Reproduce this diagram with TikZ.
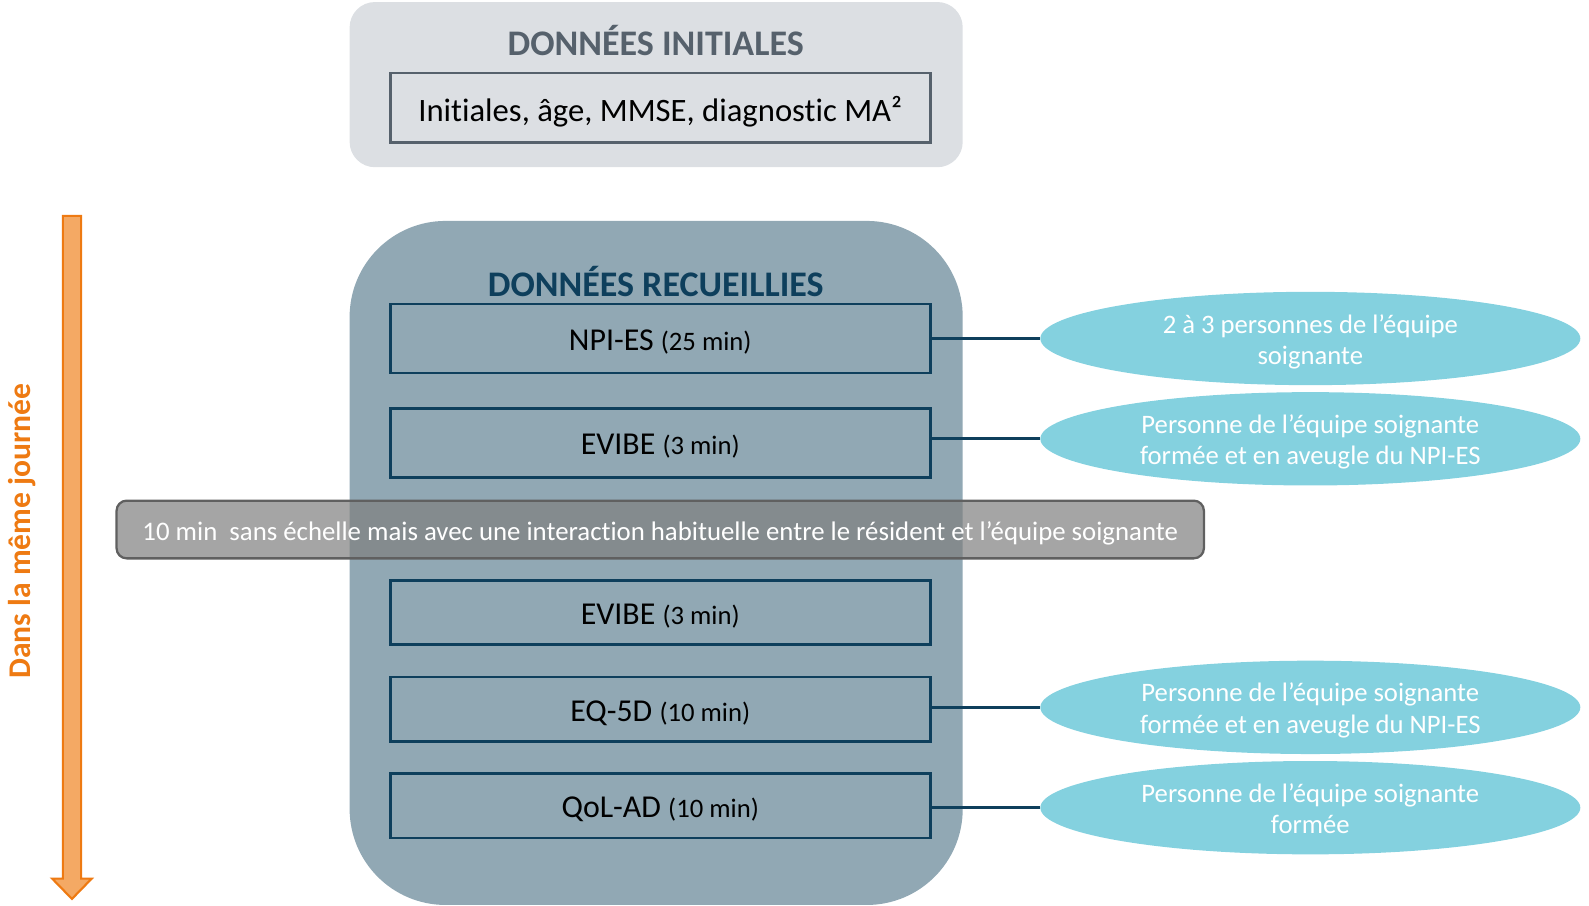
\documentclass[tikz,border=0pt]{standalone}
\usepackage{fontspec}
\setmainfont{Carlito}[Ligatures=CommonOff]
\usetikzlibrary{shapes.geometric}
\definecolor{topfill}{HTML}{DCDFE3}
\definecolor{toptxt}{HTML}{56616C}
\definecolor{bigfill}{HTML}{91A8B4}
\definecolor{navy}{HTML}{0E3F5C}
\definecolor{teal}{HTML}{84D1DF}
\definecolor{orfill}{HTML}{F4A964}
\definecolor{orline}{HTML}{EE7A12}
\definecolor{bandgray}{HTML}{7F7F7F}
\definecolor{bandline}{HTML}{606060}
\tikzset{
  stepbox/.style={draw=navy, line width=2.1pt, minimum width=405pt, inner sep=0pt, font=\fontsize{23.9}{28}\selectfont},
  oval/.style={ellipse, fill=teal, minimum width=405pt, minimum height=70pt, inner sep=0pt, text=white, font=\fontsize{20}{23.7}\selectfont},
  link/.style={draw=navy, line width=2.2pt}
}
\newcommand{\dur}[1]{{\fontsize{20}{23}\selectfont #1}}
\newcommand{\dn}[1]{\raisebox{-2.8pt}[\height][\depth]{#1}}
\newcommand{\twol}[2]{\raisebox{-3pt}[\height][\depth]{\begin{tabular}{@{}c@{}}#1\\#2\end{tabular}}}
\begin{document}
\begin{tikzpicture}[x=0.76004pt,y=-0.76004pt]
\useasboundingbox (0,0) rectangle (1568,894);
% top panel
\fill[topfill, rounded corners=19pt] (345,2) rectangle (950,165);
\node[text=toptxt, font=\fontsize{27}{31}\selectfont\bfseries] (t1) at (647,40) {DONNÉES INITIALES};
\node[draw=toptxt, line width=2.1pt, minimum width=405pt, minimum height=52.4pt, inner sep=0pt, font=\fontsize{24.5}{28}\selectfont] (init) at (651.5,106.5) {\dn{Initiales, âge, MMSE, diagnostic MA²}};
% big panel
\fill[bigfill, rounded corners=72pt] (345,218) rectangle (950,893);
\node[text=navy, font=\fontsize{27}{31}\selectfont\bfseries] (t2) at (647,278) {DONNÉES RECUEILLIES};
\node[stepbox, minimum height=51.7pt] (npi) at (651.5,334) {\dn{NPI-ES \dur{(25 min)}}};
\node[stepbox, minimum height=51.7pt] (ev1) at (651.5,437) {\dn{EVIBE \dur{(3 min)}}};
\node[stepbox, minimum height=47.9pt] (ev2) at (651.5,604.5) {\dn{EVIBE \dur{(3 min)}}};
\node[stepbox, minimum height=48.6pt] (eq) at (651.5,700) {\dn{EQ-5D \dur{(10 min)}}};
\node[stepbox, minimum height=48.6pt] (qol) at (651.5,795) {\dn{QoL-AD \dur{(10 min)}}};
% band
\node[fill=bandgray, fill opacity=0.7, text opacity=1, draw=bandline, line width=1.7pt, rounded corners=7.6pt, minimum width=815.5pt, minimum height=43.3pt, inner sep=0pt, text=white, font=\fontsize{20.1}{23}\selectfont] (band) at (651.5,522.5) {\dn{10 min\ \ sans échelle mais avec une interaction habituelle entre le résident et l’équipe soignante}};
% ovals
\node[oval] (o1) at (1293,334) {\twol{2 à 3 personnes de l’équipe}{soignante}};
\node[oval] (o2) at (1293,433) {\twol{Personne de l’équipe soignante}{formée et en aveugle du NPI-ES}};
\node[oval] (o3) at (1293,698) {\twol{Personne de l’équipe soignante}{formée et en aveugle du NPI-ES}};
\node[oval] (o4) at (1293,797) {\twol{Personne de l’équipe soignante}{formée}};
\draw[link] (npi.east |- o1.west) -- (o1.west);
\draw[link] (ev1.east |- o2.west) -- (o2.west);
\draw[link] (eq.east |- o3.west) -- (o3.west);
\draw[link] (qol.east |- o4.west) -- (o4.west);
% orange arrow
\draw[fill=orfill, draw=orline, line width=1.6pt, line join=miter] (62,213) -- (80,213) -- (80,867) -- (90.5,867) -- (71,887) -- (51.5,867) -- (62,867) -- cycle;
\node[rotate=90, text=orline, font=\fontsize{23.7}{28}\selectfont\bfseries] (lbl) at (22,524) {Dans la même journée};
\end{tikzpicture}
\end{document}
